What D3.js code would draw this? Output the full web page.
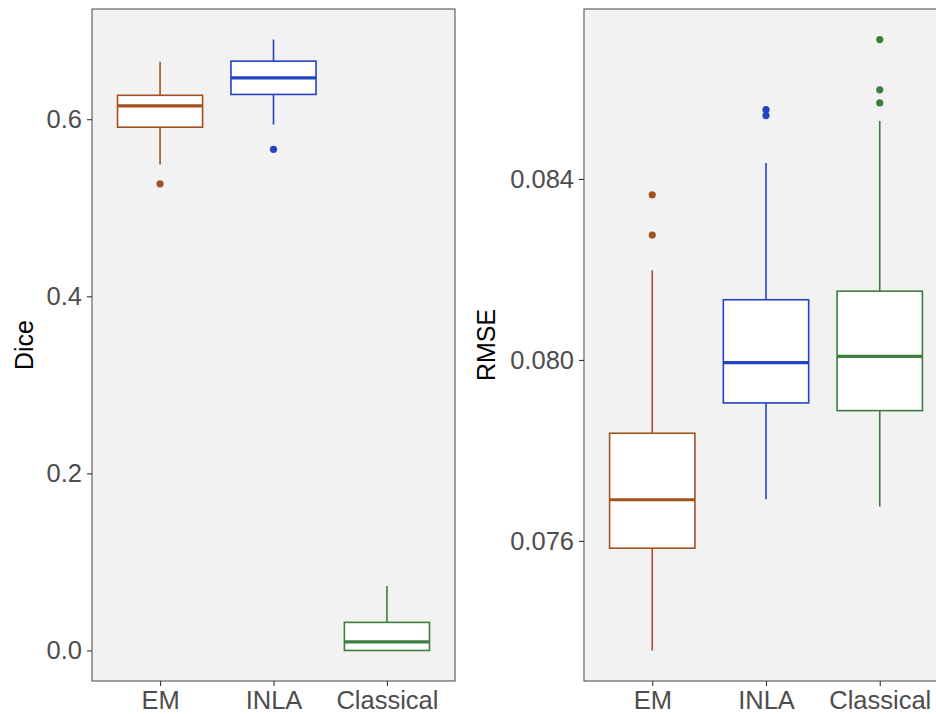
<!DOCTYPE html>
<html>
<head>
<meta charset="utf-8">
<script src="https://cdn.jsdelivr.net/npm/d3@7"></script>
<style>
  body { margin: 0; background: #fff; }
  svg { display: block; font-family: "Liberation Sans", Arial, sans-serif; }
</style>
</head>
<body>
<div id="chart"></div>
<script>
/* two boxplot panels: Dice and RMSE */

const width = 936, height = 714;

// categories and colours
const methods = ["EM", "INLA", "Classical"];
const colors = ["#a0521f", "#2143c4", "#3f7d3f"];

// Dice stats per method
const diceLow  = [0.549, 0.594, 0.000];
const diceQ1   = [0.591, 0.628, 0.000];
const diceMed  = [0.615, 0.6467, 0.0098];
const diceQ3   = [0.627, 0.6656, 0.0317];
const diceHigh = [0.665, 0.690, 0.0728];
const diceOut  = [[0.527], [0.566], []];
const diceTicks = [0.0, 0.2, 0.4, 0.6];

// RMSE stats per method
const rmseLow  = [0.07358, 0.07692, 0.07676];
const rmseQ1   = [0.07584, 0.07905, 0.07888];
const rmseMed  = [0.07691, 0.07994, 0.08008];
const rmseQ3   = [0.07838, 0.08133, 0.08152];
const rmseHigh = [0.08198, 0.08435, 0.08528];
const rmseOut  = [[0.08365, 0.08276], [0.08553, 0.0854], [0.08708, 0.08597, 0.08568]];
const rmseTicks = [0.076, 0.080, 0.084];

const svg = d3.select("#chart")
  .append("svg")
  .attr("width", width)
  .attr("height", height);

function panel(opts) {
  const { left, right, top, bottom, low, q1, med, q3, high, out, ticks, fmt, title, titleX } = opts;

  const allVals = low.concat(high, out.flat());
  const lo = d3.min(allVals), hi = d3.max(allVals);
  const pad = (hi - lo) * 0.05;

  const x = d3.scalePoint()
    .domain(methods)
    .range([left, right])
    .padding(0.6);

  const y = d3.scaleLinear()
    .domain([lo - pad, hi + pad])
    .range([bottom, top]);

  const g = svg.append("g");

  // panel background
  g.append("rect")
    .attr("x", left).attr("y", top)
    .attr("width", right - left).attr("height", bottom - top)
    .attr("fill", "#f2f2f2");

  const bw = x.step() * 0.75;

  methods.forEach((m, i) => {
    const cx = x(m);
    const c = colors[i];
    // whiskers
    g.append("line")
      .attr("x1", cx).attr("x2", cx)
      .attr("y1", y(q3[i])).attr("y2", y(high[i]))
      .attr("stroke", c).attr("stroke-width", 1.6);
    g.append("line")
      .attr("x1", cx).attr("x2", cx)
      .attr("y1", y(q1[i])).attr("y2", y(low[i]))
      .attr("stroke", c).attr("stroke-width", 1.6);
    // box
    g.append("rect")
      .attr("x", cx - bw / 2).attr("y", y(q3[i]))
      .attr("width", bw).attr("height", y(q1[i]) - y(q3[i]))
      .attr("fill", "#fff")
      .attr("stroke", c).attr("stroke-width", 1.6);
    // median
    g.append("line")
      .attr("x1", cx - bw / 2).attr("x2", cx + bw / 2)
      .attr("y1", y(med[i])).attr("y2", y(med[i]))
      .attr("stroke", c).attr("stroke-width", 3.2);
    // outliers
    g.selectAll(null)
      .data(out[i])
      .join("circle")
      .attr("cx", cx).attr("cy", d => y(d))
      .attr("r", 3.6)
      .attr("fill", c);
  });

  // panel border
  g.append("rect")
    .attr("x", left).attr("y", top)
    .attr("width", right - left).attr("height", bottom - top)
    .attr("fill", "none")
    .attr("stroke", "#555").attr("stroke-width", 1.1);

  // axes
  const ya = g.append("g")
    .attr("transform", `translate(${left},0)`)
    .call(d3.axisLeft(y).tickValues(ticks).tickFormat(d3.format(fmt)).tickSize(5).tickPadding(5));
  ya.select(".domain").remove();

  const xa = g.append("g")
    .attr("transform", `translate(0,${bottom})`)
    .call(d3.axisBottom(x).tickSize(5).tickPadding(5));
  xa.select(".domain").remove();

  g.selectAll(".tick line").attr("stroke", "#333").attr("stroke-width", 1.1);
  g.selectAll(".tick text")
    .attr("fill", "#4d4d4d")
    .style("font-size", "25.5px")
    .style("font-family", "'Liberation Sans', Arial, sans-serif");

  // axis title
  g.append("text")
    .attr("transform", `translate(${titleX},${(top + bottom) / 2}) rotate(-90)`)
    .attr("text-anchor", "middle")
    .attr("fill", "#000")
    .style("font-size", "25px")
    .text(title);
}

panel({
  left: 92, right: 455, top: 9, bottom: 681,
  low: diceLow, q1: diceQ1, med: diceMed, q3: diceQ3, high: diceHigh, out: diceOut,
  ticks: diceTicks, fmt: ".1f", title: "Dice", titleX: 33
});

panel({
  left: 584, right: 948, top: 9, bottom: 681,
  low: rmseLow, q1: rmseQ1, med: rmseMed, q3: rmseQ3, high: rmseHigh, out: rmseOut,
  ticks: rmseTicks, fmt: ".3f", title: "RMSE", titleX: 495
});
</script>
</body>
</html>
